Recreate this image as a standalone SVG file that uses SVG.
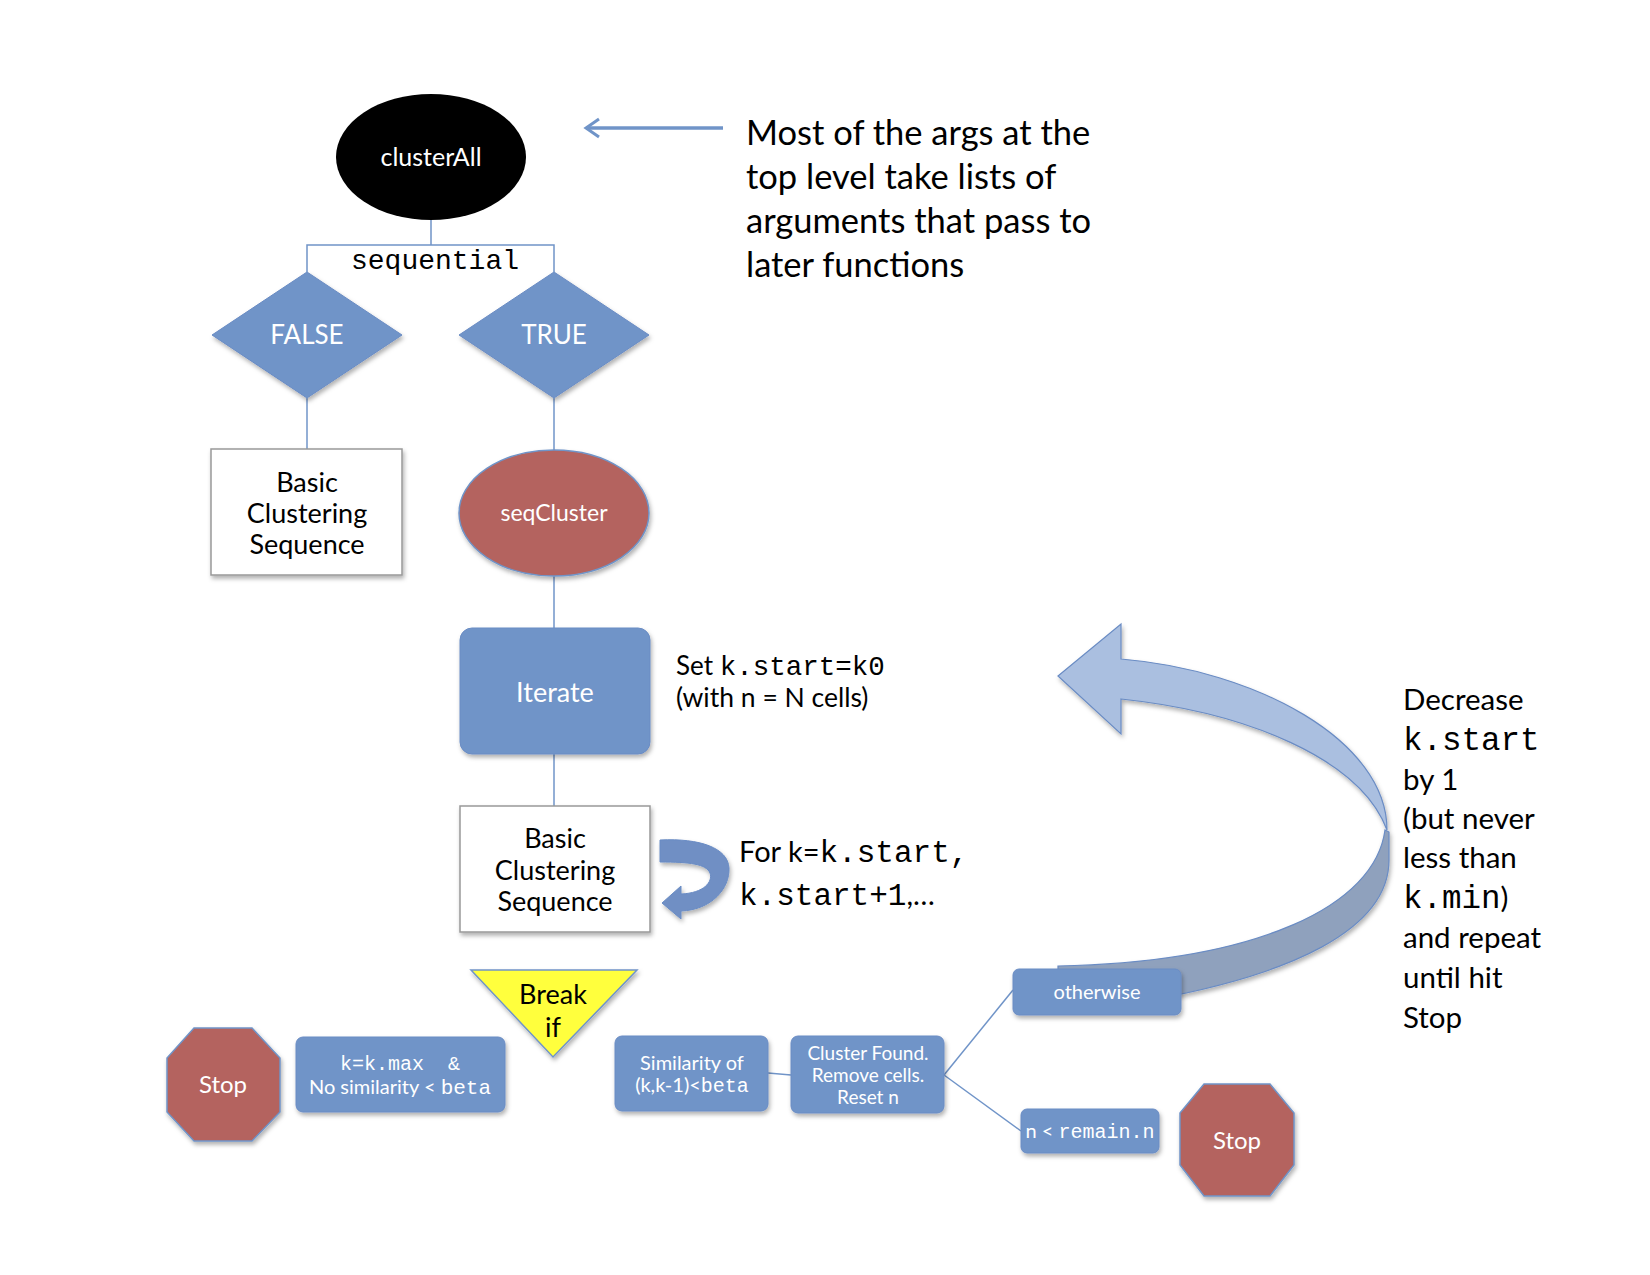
<svg xmlns="http://www.w3.org/2000/svg" width="1650" height="1275" viewBox="0 0 1650 1275">
<defs>
<filter id="sh" x="-20%" y="-20%" width="140%" height="150%">
<feDropShadow dx="1.5" dy="3" stdDeviation="2" flood-color="#000" flood-opacity="0.3"/>
</filter>
<marker id="open" markerWidth="20" markerHeight="22" refX="16" refY="11" orient="auto" markerUnits="userSpaceOnUse">
<path d="M3,2 L16,11 L3,20" fill="none" stroke="#7094c8" stroke-width="3"/>
</marker>
</defs>
<style>
.blue{fill:#7094c8;stroke:#6a8cc4;stroke-width:1}
.red{fill:#b4645f;stroke:#7094c8;stroke-width:1.5}
.box{fill:#fff;stroke:#999;stroke-width:1.5}
.ln{fill:none;stroke:#7094c8;stroke-width:1.5}
.s{font-family:Lato,"Liberation Sans",sans-serif}
.m{font-family:"Liberation Mono","Courier New",monospace}
.w{fill:#fff}
.k{fill:#000}
.c{text-anchor:middle}
</style>
<rect width="1650" height="1275" fill="#fff"/>

<g id="connectors">
<path class="ln" d="M431,220 V245 M307,272 V245 H554 V272"/>
<path class="ln" d="M307,398 V449"/>
<path class="ln" d="M554,398 V450"/>
<path class="ln" d="M554,576 V628"/>
<path class="ln" d="M554,754 V806"/>
<path class="ln" d="M768,1073 L791,1075"/>
<path class="ln" d="M944,1075 L1013,990"/>
<path class="ln" d="M944,1075 L1021,1131"/>
<path d="M723,128 H586" fill="none" stroke="#7094c8" stroke-width="3.5" marker-end="url(#open)"/>
<path d="M660,840 C700,838 728,848 729,868 C730,888 712,910 681,911 L681,919 L662,903 L681,886 L681,894 C704,893 713,882 710,873 C706,864 690,862 660,862 Z" fill="#6f8fc4" stroke="#6a8cc4" stroke-width="1" filter="url(#sh)"/>
<g id="big-arrow" filter="url(#sh)">
<path d="M1385,830 C1375,905 1260,962 1058,966 L1058,1000 L1150,1000 C1290,975 1389,930 1389,860 L1389,832 Z" fill="#8fa1bd" stroke="#6a8cc4" stroke-width="1.2"/>
<path d="M1058,676 L1121,624 L1121,659 C1255,670 1387,740 1387,830 C1360,758 1245,712 1121,699 L1121,734 Z" fill="#aabfe0" stroke="#6a8cc4" stroke-width="1.2"/>
</g>
</g>

<g id="clusterAll">
<ellipse cx="431" cy="157" rx="95" ry="63" fill="#000"/>
<text class="s w c" x="431" y="166" font-size="25">clusterAll</text>
</g>

<g id="sequential-label">
<text class="m k c" x="435" y="269" font-size="28">sequential</text>
</g>

<g id="false">
<polygon class="blue" points="307,272 402,335 307,398 212,335" filter="url(#sh)"/>
<text class="s w c" x="307" y="344" font-size="26">FALSE</text>
</g>
<g id="true">
<polygon class="blue" points="554,272 649,335 554,398 459,335" filter="url(#sh)"/>
<text class="s w c" x="554" y="344" font-size="26">TRUE</text>
</g>

<g id="basic1">
<rect class="box" x="211" y="449" width="191" height="126" filter="url(#sh)"/>
<text class="s k c" font-size="27"><tspan x="307" y="492">Basic</tspan><tspan x="307" y="523">Clustering</tspan><tspan x="307" y="554">Sequence</tspan></text>
</g>

<g id="seqCluster">
<ellipse cx="554" cy="513" rx="95" ry="63" class="red" stroke="none" filter="url(#sh)"/>
<text class="s w c" x="554" y="521" font-size="23">seqCluster</text>
</g>

<g id="iterate">
<rect class="blue" x="460" y="628" width="190" height="126" rx="12" filter="url(#sh)"/>
<text class="s w c" x="555" y="702" font-size="27">Iterate</text>
</g>
<g id="set-note">
<text class="k" x="676" y="675" font-size="26"><tspan class="s">Set </tspan><tspan class="m" font-size="27.5">k.start=k0</tspan></text>
<text class="s k" x="676" y="707" font-size="26.5">(with n = N cells)</text>
</g>

<g id="basic2">
<rect class="box" x="460" y="806" width="190" height="126" filter="url(#sh)"/>
<text class="s k c" font-size="27"><tspan x="555" y="848">Basic</tspan><tspan x="555" y="880">Clustering</tspan><tspan x="555" y="911">Sequence</tspan></text>
</g>
<g id="for-note">
<text class="k" x="739" y="862" font-size="29"><tspan class="s">For k=</tspan><tspan class="m" font-size="31">k.start,</tspan></text>
<text class="k" x="739" y="905" font-size="29"><tspan class="m" font-size="31">k.start+1</tspan><tspan class="s">,…</tspan></text>
</g>

<g id="break">
<polygon points="471,970 637,970 553,1057" fill="#ffff3c" stroke="#7094c8" stroke-width="1.5" filter="url(#sh)"/>
<text class="s k c" font-size="27"><tspan x="553" y="1004">Break</tspan><tspan x="553" y="1037">if</tspan></text>
</g>

<g id="stop-left">
<polygon class="red" points="194,1028 252,1028 280,1058 280,1112 252,1141 194,1141 167,1112 167,1058" filter="url(#sh)"/>
<text class="s w c" x="223" y="1093" font-size="24">Stop</text>
</g>

<g id="kmax">
<rect class="blue" x="296" y="1037" width="209" height="75" rx="7" filter="url(#sh)"/>
<text class="w c" x="400" y="1070"><tspan class="m" font-size="20" xml:space="preserve">k=k.max  &amp;</tspan></text>
<text class="w c" x="400" y="1094"><tspan class="s" font-size="20">No similarity &lt; </tspan><tspan class="m" font-size="21">beta</tspan></text>
</g>

<g id="similarity">
<rect class="blue" x="615" y="1036" width="153" height="75" rx="7" filter="url(#sh)"/>
<text class="s w c" x="692" y="1070" font-size="20">Similarity of</text>
<text class="w c" x="692" y="1092"><tspan class="s" font-size="20">(k,k-1)&lt;</tspan><tspan class="m" font-size="20">beta</tspan></text>
</g>

<g id="cluster-found">
<rect class="blue" x="791" y="1036" width="153" height="77" rx="7" filter="url(#sh)"/>
<text class="s w c" font-size="19"><tspan x="868" y="1060">Cluster Found.</tspan><tspan x="868" y="1082">Remove cells.</tspan><tspan x="868" y="1104">Reset n</tspan></text>
</g>

<g id="otherwise">
<rect class="blue" x="1013" y="969" width="168" height="46" rx="6" filter="url(#sh)"/>
<text class="s w c" x="1097" y="999" font-size="20">otherwise</text>
</g>

<g id="remain">
<rect class="blue" x="1021" y="1109" width="138" height="44" rx="6" filter="url(#sh)"/>
<text class="w c" x="1090" y="1138"><tspan class="s" font-size="20">n &lt; </tspan><tspan class="m" font-size="20">remain.n</tspan></text>
</g>

<g id="stop-right">
<polygon class="red" points="1204,1084 1270,1084 1294,1113 1294,1165 1270,1196 1204,1196 1180,1165 1180,1113" filter="url(#sh)"/>
<text class="s w c" x="1237" y="1149" font-size="24">Stop</text>
</g>

<g id="top-note">
<text class="s k" font-size="34.5"><tspan x="746" y="145">Most of the args at the</tspan><tspan x="746" y="189">top level take lists of</tspan><tspan x="746" y="233">arguments that pass to</tspan><tspan x="746" y="277">later functions</tspan></text>
</g>

<g id="decrease-note">
<text class="s k" font-size="29.5"><tspan x="1403" y="710">Decrease</tspan></text>
<text class="m k" font-size="32.5" x="1403" y="750">k.start</text>
<text class="s k" font-size="29.5"><tspan x="1403" y="790">by 1</tspan><tspan x="1403" y="829">(but never</tspan><tspan x="1403" y="868">less than</tspan></text>
<text class="k" x="1403" y="908"><tspan class="m" font-size="32.5">k.min</tspan><tspan class="s" font-size="29.5">)</tspan></text>
<text class="s k" font-size="29.5"><tspan x="1403" y="948">and repeat</tspan><tspan x="1403" y="988">until hit</tspan><tspan x="1403" y="1028">Stop</tspan></text>
</g>
</svg>
